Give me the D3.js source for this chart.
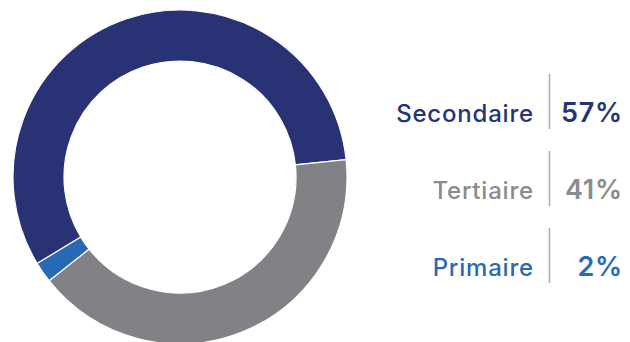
<!DOCTYPE html>
<html>
<head>
<meta charset="utf-8">
<script src="https://cdn.jsdelivr.net/npm/d3@7"></script>
<style>
  html, body { margin: 0; padding: 0; background: #ffffff; }
  svg { display: block; }
</style>
</head>
<body>
<svg id="chart" width="630" height="342"></svg>
<script>
// Répartition par secteur
const categories = ["Secondaire", "Tertiaire", "Primaire"];
const values = [57, 41, 2];
const valueLabels = ["57%", "41%", "2%"];
const colors = ["#283275", "#818285", "#2769b3"];
const textColors = ["#283375", "#8a8b8d", "#2a6ab4"];

const svg = d3.select("#chart");

// Donut
const cx = 180, cy = 177;
const outerR = 167, innerR = 116;
const start = -121.2 * Math.PI / 180;

const pie = d3.pie()
  .sort(null)
  .value(d => d)
  .startAngle(start)
  .endAngle(start + 2 * Math.PI);

const arc = d3.arc().innerRadius(innerR).outerRadius(outerR);

const g = svg.append("g").attr("transform", `translate(${cx},${cy})`);
g.selectAll("path")
  .data(pie(values))
  .join("path")
  .attr("d", arc)
  .attr("fill", (d, i) => colors[i])
  .attr("stroke", "#ffffff")
  .attr("stroke-width", 1.2);

// Legend rows: label | value
const rowY = d3.scalePoint().domain(categories).range([122, 276]);
const sepX = 549.5;
const labelRight = 534;
const valueRight = 623;

const rows = svg.append("g").selectAll("g.row")
  .data(categories)
  .join("g")
  .attr("class", "row")
  .attr("transform", d => `translate(0,${rowY(d)})`);

rows.append("line")
  .attr("x1", sepX).attr("x2", sepX)
  .attr("y1", -48).attr("y2", 7)
  .attr("stroke", "#a9a9ab")
  .attr("stroke-width", 1.5);

rows.append("text")
  .attr("x", labelRight)
  .attr("y", 0)
  .attr("text-anchor", "end")
  .attr("font-family", "Inter, 'Noto Sans', sans-serif")
  .attr("font-weight", 500)
  .attr("font-size", 24)
  .attr("letter-spacing", 0.8)
  .attr("fill", (d, i) => textColors[i])
  .text(d => d);

rows.append("text")
  .attr("x", valueRight)
  .attr("y", 0)
  .attr("text-anchor", "end")
  .attr("font-family", "Inter, 'Noto Sans', sans-serif")
  .attr("font-weight", 600)
  .attr("font-size", 27)
  .attr("letter-spacing", 0.8)
  .attr("fill", (d, i) => textColors[i])
  .text((d, i) => valueLabels[i]);
</script>
</body>
</html>
